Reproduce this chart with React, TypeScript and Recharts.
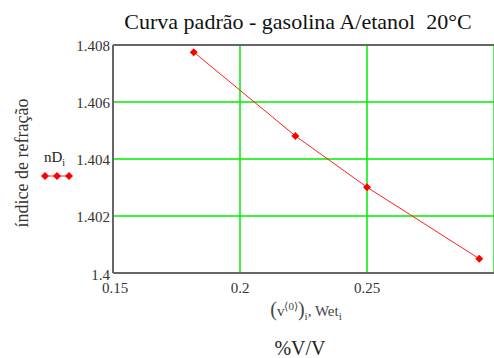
import { CartesianGrid, Line, LineChart, ReferenceLine, XAxis, YAxis } from "recharts";

// volume fraction of ethanol (v<0>) and refraction index nD at 20°C
const volumeFraction = [0.1818, 0.2218, 0.25, 0.2942];
const refractionIndex = [1.40775, 1.40481, 1.40301, 1.4005];
const xTicks = [0.15, 0.2, 0.25];
const yTicks = [1.4, 1.402, 1.404, 1.406, 1.408];

const serif = "'Liberation Serif', 'Times New Roman', serif";

function Diamond(props: any) {
  const { cx, cy, index } = props;
  if (cx == null || cy == null) return null;
  const r = 4;
  return (
    <polygon
      key={`d-${index}`}
      points={`${cx},${cy - r} ${cx + r},${cy} ${cx},${cy + r} ${cx - r},${cy}`}
      fill="#ff0000"
    />
  );
}

function XTick(props: any) {
  const { x, y, payload } = props;
  const dx = payload.value === 0.15 ? 2 : 0;
  return (
    <text x={x + dx} y={y + 20} textAnchor="middle" style={{ fontFamily: serif, fontSize: 15, fill: "#333" }}>
      {payload.value}
    </text>
  );
}

function YTick(props: any) {
  const { x, y, payload } = props;
  // the bottom label sits a bit lower, right on top of "0.15"
  const dy = payload.value === 1.4 ? 7 : 6;
  return (
    <text x={x} y={y + dy} textAnchor="end" style={{ fontFamily: serif, fontSize: 15, fill: "#333" }}>
      {payload.value}
    </text>
  );
}

export default function App() {
  const data = volumeFraction.map((v, i) => ({ v, nD: refractionIndex[i] }));

  return (
    <div
      style={{
        position: "absolute",
        left: 0,
        top: 0,
        width: 494,
        height: 358,
        overflow: "hidden",
        background: "#fff",
        fontFamily: serif,
      }}
    >
      <LineChart
        width={494}
        height={358}
        data={data}
        margin={{ top: 45, right: 0, left: 0, bottom: 0 }}
        style={{ fontFamily: serif }}
      >
        <CartesianGrid stroke="#00ee00" strokeWidth={1.5} />
        <XAxis
          dataKey="v"
          type="number"
          domain={[0.15, 0.3]}
          ticks={xTicks}
          tickLine={false}
          tickSize={0}
          tickMargin={0}
          height={85}
          axisLine={{ stroke: "#666", strokeWidth: 2 }}
          tick={<XTick />}
        />
        <YAxis
          type="number"
          domain={[1.4, 1.408]}
          ticks={yTicks}
          tickLine={false}
          tickSize={0}
          tickMargin={3}
          width={113}
          axisLine={{ stroke: "#666", strokeWidth: 2 }}
          tick={<YTick />}
        />
        <ReferenceLine y={1.408} stroke="#666" strokeWidth={2} />
        <Line
          dataKey="nD"
          stroke="#ff2020"
          strokeWidth={1}
          dot={Diamond}
          activeDot={false}
          isAnimationActive={false}
        />
      </LineChart>

      <div
        style={{
          position: "absolute",
          left: 98,
          width: 400,
          top: 9,
          textAlign: "center",
          fontSize: 22,
          color: "#111",
          whiteSpace: "nowrap",
        }}
      >
        Curva padrão - gasolina A/etanol&nbsp;&nbsp;20°C
      </div>

      <div
        style={{
          position: "absolute",
          left: 22,
          top: 163,
          transform: "translate(-50%, -50%) rotate(-90deg)",
          whiteSpace: "nowrap",
          fontSize: 18,
          color: "#333",
        }}
      >
        índice de refração
      </div>

      <div style={{ position: "absolute", left: 44, top: 149, fontSize: 15, color: "#222" }}>
        nD<sub style={{ fontSize: 10 }}>i</sub>
      </div>
      <svg style={{ position: "absolute", left: 40, top: 170 }} width={34} height={12}>
        <line x1={4} y1={6} x2={30} y2={6} stroke="#ff2020" strokeWidth={1} />
        {[5, 17, 29].map((x) => (
          <polygon key={x} points={`${x},2 ${x + 4},6 ${x},10 ${x - 4},6`} fill="#ff0000" />
        ))}
      </svg>

      <div
        style={{
          position: "absolute",
          left: 206,
          width: 200,
          top: 298,
          textAlign: "center",
          fontSize: 15,
          color: "#444",
          whiteSpace: "nowrap",
        }}
      >
        <span style={{ fontSize: 20 }}>(</span>v<sup style={{ fontSize: 11 }}>⟨0⟩</sup>
        <span style={{ fontSize: 20 }}>)</span>
        <sub style={{ fontSize: 11 }}>i</sub>, Wet<sub style={{ fontSize: 11 }}>i</sub>
      </div>

      <div
        style={{
          position: "absolute",
          left: 200,
          width: 200,
          top: 337,
          textAlign: "center",
          fontSize: 20,
          color: "#222",
        }}
      >
        %V/V
      </div>
    </div>
  );
}
